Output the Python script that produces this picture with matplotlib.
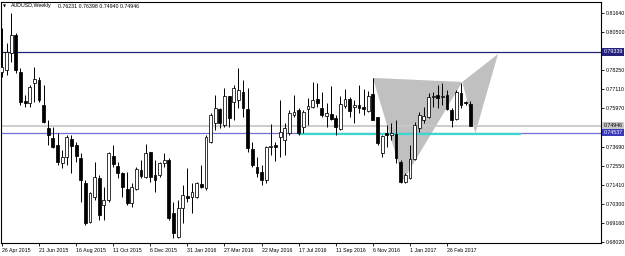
import matplotlib
matplotlib.use("Agg")
import matplotlib.pyplot as plt
import matplotlib.transforms as mtransforms
import numpy as np
import pandas as pd

# weekly AUDUSD candles, first week starts 26 Apr 2015
opens = [0.7814, 0.7826, 0.7930, 0.8035, 0.7814, 0.7642, 0.7630, 0.7749, 0.7767, 0.7618,
         0.7481, 0.7421, 0.7380, 0.7272, 0.7308, 0.7415, 0.7380, 0.7302, 0.7153, 0.6921,
         0.7070, 0.7183, 0.7022, 0.7052, 0.7314, 0.7255, 0.7213, 0.7118, 0.7034, 0.7118,
         0.7231, 0.7189, 0.7338, 0.7201, 0.7201, 0.7272, 0.7290, 0.6975, 0.6832, 0.7005,
         0.7076, 0.7070, 0.7070, 0.7148, 0.7124, 0.7397, 0.7511, 0.7594, 0.7499, 0.7672,
         0.7636, 0.7648, 0.7695, 0.7594, 0.7356, 0.7249, 0.7219, 0.7171, 0.7368, 0.7380,
         0.7427, 0.7409, 0.7451, 0.7558, 0.7588, 0.7487, 0.7594, 0.7606, 0.7654, 0.7600,
         0.7552, 0.7564, 0.7540, 0.7475, 0.7612, 0.7654, 0.7606, 0.7618, 0.7606, 0.7582,
         0.7683, 0.7546, 0.7332, 0.7451, 0.7439, 0.7445, 0.7278, 0.7159, 0.7183, 0.7296,
         0.7481, 0.7529, 0.7546, 0.7666, 0.7678, 0.7666, 0.7678, 0.7588, 0.7535, 0.7689,
         0.7636, 0.76231]
highs = [0.8076, 0.7987, 0.8164, 0.8047, 0.7838, 0.7678, 0.7737, 0.7844, 0.7785, 0.7737,
         0.7529, 0.7487, 0.7451, 0.7350, 0.7439, 0.7439, 0.7397, 0.7332, 0.7171, 0.7100,
         0.7278, 0.7201, 0.7130, 0.7338, 0.7380, 0.7278, 0.7219, 0.7219, 0.7153, 0.7249,
         0.7290, 0.7386, 0.7338, 0.7290, 0.7278, 0.7332, 0.7302, 0.7040, 0.7052, 0.7142,
         0.7243, 0.7153, 0.7159, 0.7261, 0.7439, 0.7570, 0.7678, 0.7600, 0.7719, 0.7672,
         0.7737, 0.7838, 0.7767, 0.7719, 0.7397, 0.7308, 0.7261, 0.7374, 0.7505, 0.7397,
         0.7648, 0.7511, 0.7588, 0.7678, 0.7600, 0.7588, 0.7660, 0.7755, 0.7749, 0.7695,
         0.7630, 0.7731, 0.7558, 0.7672, 0.7713, 0.7666, 0.7648, 0.7737, 0.7713, 0.7701,
         0.7779, 0.7546, 0.7439, 0.7499, 0.7511, 0.7529, 0.7290, 0.7213, 0.7380, 0.7517,
         0.7576, 0.7606, 0.7689, 0.7695, 0.7737, 0.7749, 0.7707, 0.7600, 0.7707, 0.7749,
         0.7642, 0.76398]
lows = [0.7785, 0.7797, 0.7874, 0.7808, 0.7618, 0.7606, 0.7606, 0.7636, 0.7636, 0.7511,
        0.7380, 0.7362, 0.7261, 0.7243, 0.7261, 0.7213, 0.7278, 0.7040, 0.6904, 0.6915,
        0.7052, 0.6933, 0.6933, 0.7040, 0.7249, 0.7183, 0.7070, 0.7022, 0.7010, 0.7112,
        0.7183, 0.7183, 0.7159, 0.7100, 0.7189, 0.7249, 0.6933, 0.6826, 0.6826, 0.6915,
        0.7040, 0.6975, 0.7064, 0.7124, 0.7112, 0.7392, 0.7469, 0.7481, 0.7487, 0.7487,
        0.7529, 0.7600, 0.7546, 0.7338, 0.7249, 0.7189, 0.7142, 0.7153, 0.7320, 0.7284,
        0.7308, 0.7320, 0.7439, 0.7546, 0.7439, 0.7451, 0.7499, 0.7600, 0.7606, 0.7546,
        0.7487, 0.7529, 0.7439, 0.7469, 0.7600, 0.7546, 0.7511, 0.7570, 0.7558, 0.7576,
        0.7529, 0.7380, 0.7308, 0.7368, 0.7409, 0.7272, 0.7153, 0.7153, 0.7177, 0.7290,
        0.7457, 0.7511, 0.7540, 0.7606, 0.7600, 0.7618, 0.7588, 0.7487, 0.7529, 0.7600,
        0.7618, 0.74940]
closes = [0.7844, 0.7934, 0.8035, 0.7826, 0.7636, 0.7630, 0.7725, 0.7773, 0.7648, 0.7517,
          0.7439, 0.7368, 0.7278, 0.7308, 0.7427, 0.7374, 0.7314, 0.7171, 0.6915, 0.7094,
          0.7189, 0.6963, 0.7052, 0.7332, 0.7266, 0.7213, 0.7130, 0.7034, 0.7130, 0.7237,
          0.7195, 0.7332, 0.7189, 0.7171, 0.7272, 0.7290, 0.6945, 0.6856, 0.7005, 0.7082,
          0.7064, 0.7100, 0.7153, 0.7130, 0.7427, 0.7558, 0.7600, 0.7511, 0.7672, 0.7540,
          0.7719, 0.7707, 0.7600, 0.7362, 0.7261, 0.7213, 0.7171, 0.7368, 0.7374, 0.7368,
          0.7457, 0.7481, 0.7570, 0.7576, 0.7451, 0.7576, 0.7612, 0.7648, 0.7630, 0.7558,
          0.7570, 0.7535, 0.7487, 0.7624, 0.7654, 0.7582, 0.7618, 0.7600, 0.7594, 0.7672,
          0.7529, 0.7392, 0.7433, 0.7439, 0.7451, 0.7302, 0.7159, 0.7201, 0.7296, 0.7499,
          0.7558, 0.7552, 0.7666, 0.7672, 0.7660, 0.7672, 0.7594, 0.7529, 0.7695, 0.7618,
          0.7630, 0.74946]

dates = pd.date_range("2015-04-26", periods=len(opens), freq="W-SUN")

# horizontal levels
level_navy = 0.79339
level_bid = 0.74946
level_blue = 0.74537
level_cyan = 0.7448
cyan_from, cyan_to = 63.9, 112.0

# harmonic pattern points (bar index, price)
pat_x = [80.0, 86.6, 99.3, 107.0, 102.1]
pat_y = [0.7779, 0.7171, 0.7755, 0.7922, 0.7451]

price_ticks = [0.81640, 0.80500, 0.78250, 0.77110, 0.75970,
               0.73690, 0.72550, 0.71410, 0.70300, 0.69160, 0.68020]

fs = 3.8
plt.rcParams['font.family'] = ['Liberation Sans', 'DejaVu Sans']

fig = plt.figure(figsize=(6.25, 2.56), dpi=100)
fig.patch.set_facecolor("white")
ax = fig.add_axes([1 / 625, 13 / 256, 600 / 625, 241.5 / 256])
ax.set_xlim(-0.2, 129.2)
ax.set_ylim(0.6796, 0.8234)

# pattern triangles (XAB and BCD)
ax.fill([pat_x[0], pat_x[1], pat_x[2]], [pat_y[0], pat_y[1], pat_y[2]],
        color="#c0c0c0", lw=0, zorder=1)
ax.fill([pat_x[2], pat_x[3], pat_x[4]], [pat_y[2], pat_y[3], pat_y[4]],
        color="#c0c0c0", lw=0, zorder=1)

# levels
ax.axhline(level_navy, color="#23237e", lw=0.9, zorder=2)
ax.axhline(level_bid, color="#c8c8c8", lw=1.3, zorder=2)
ax.axhline(level_blue, color="#7070d8", lw=0.9, zorder=2)
ax.hlines(level_cyan, cyan_from, cyan_to, color="#3cd8cf", lw=1.6, zorder=2)

# candles
x = np.arange(len(opens))
o = np.array(opens)
c = np.array(closes)
bull = c >= o
ax.vlines(x, lows, highs, color="black", lw=0.7, zorder=3)
body = np.maximum(np.abs(c - o), 0.00035)
bottom = np.minimum(o, c)
ax.bar(x[bull], body[bull], bottom=bottom[bull], width=0.62,
       color="white", edgecolor="black", lw=0.55, zorder=4)
ax.bar(x[~bull], body[~bull], bottom=bottom[~bull], width=0.62,
       color="black", edgecolor="black", lw=0.55, zorder=4)

# axes styling
for s in ax.spines.values():
    s.set_color("black")
    s.set_linewidth(0.8)
ax.yaxis.tick_right()
ax.set_yticks(price_ticks)
ax.set_yticklabels([f"{v:.5f}" for v in price_ticks])
ax.tick_params(axis="y", length=2.2, width=0.6, pad=1, labelsize=fs)

xt = list(range(0, len(opens), 8))
ax.set_xticks(xt)
ax.set_xticklabels([f"{dates[i].day} {dates[i]:%b %Y}" for i in xt])
ax.tick_params(axis="x", length=2.2, width=0.6, pad=1.2, labelsize=fs)
for lab in ax.get_xticklabels():
    lab.set_ha("left")

# boxed price labels on the right axis
trans = mtransforms.blended_transform_factory(ax.transAxes, ax.transData)
boxes = [(level_navy, "#23237e", "white"),
         (level_bid, "#c8c8c8", "black"),
         (level_blue, "#3a3ab8", "white")]
for val, bg, fg in boxes:
    ax.text(1.004, val, f"{val:.5f}", transform=trans, fontsize=fs, color=fg,
            va="center", ha="left", clip_on=False, zorder=10,
            bbox=dict(boxstyle="square,pad=0.25", fc=bg, ec="none"))

# header
fig.text(3 / 625, 1 - 6 / 256, "\u25bc", fontsize=2.8, va="center", ha="left",
         family="DejaVu Sans")
fig.text(11 / 625, 1 - 6 / 256, "AUDUSD,Weekly", fontsize=fs, va="center", ha="left")
fig.text(58 / 625, 1 - 6 / 256,
         f"{opens[-1]:.5f} {highs[-1]:.5f} {lows[-1]:.5f} {closes[-1]:.5f}",
         fontsize=fs, va="center", ha="left")

fig.savefig("out.png", dpi=100, facecolor="white")
